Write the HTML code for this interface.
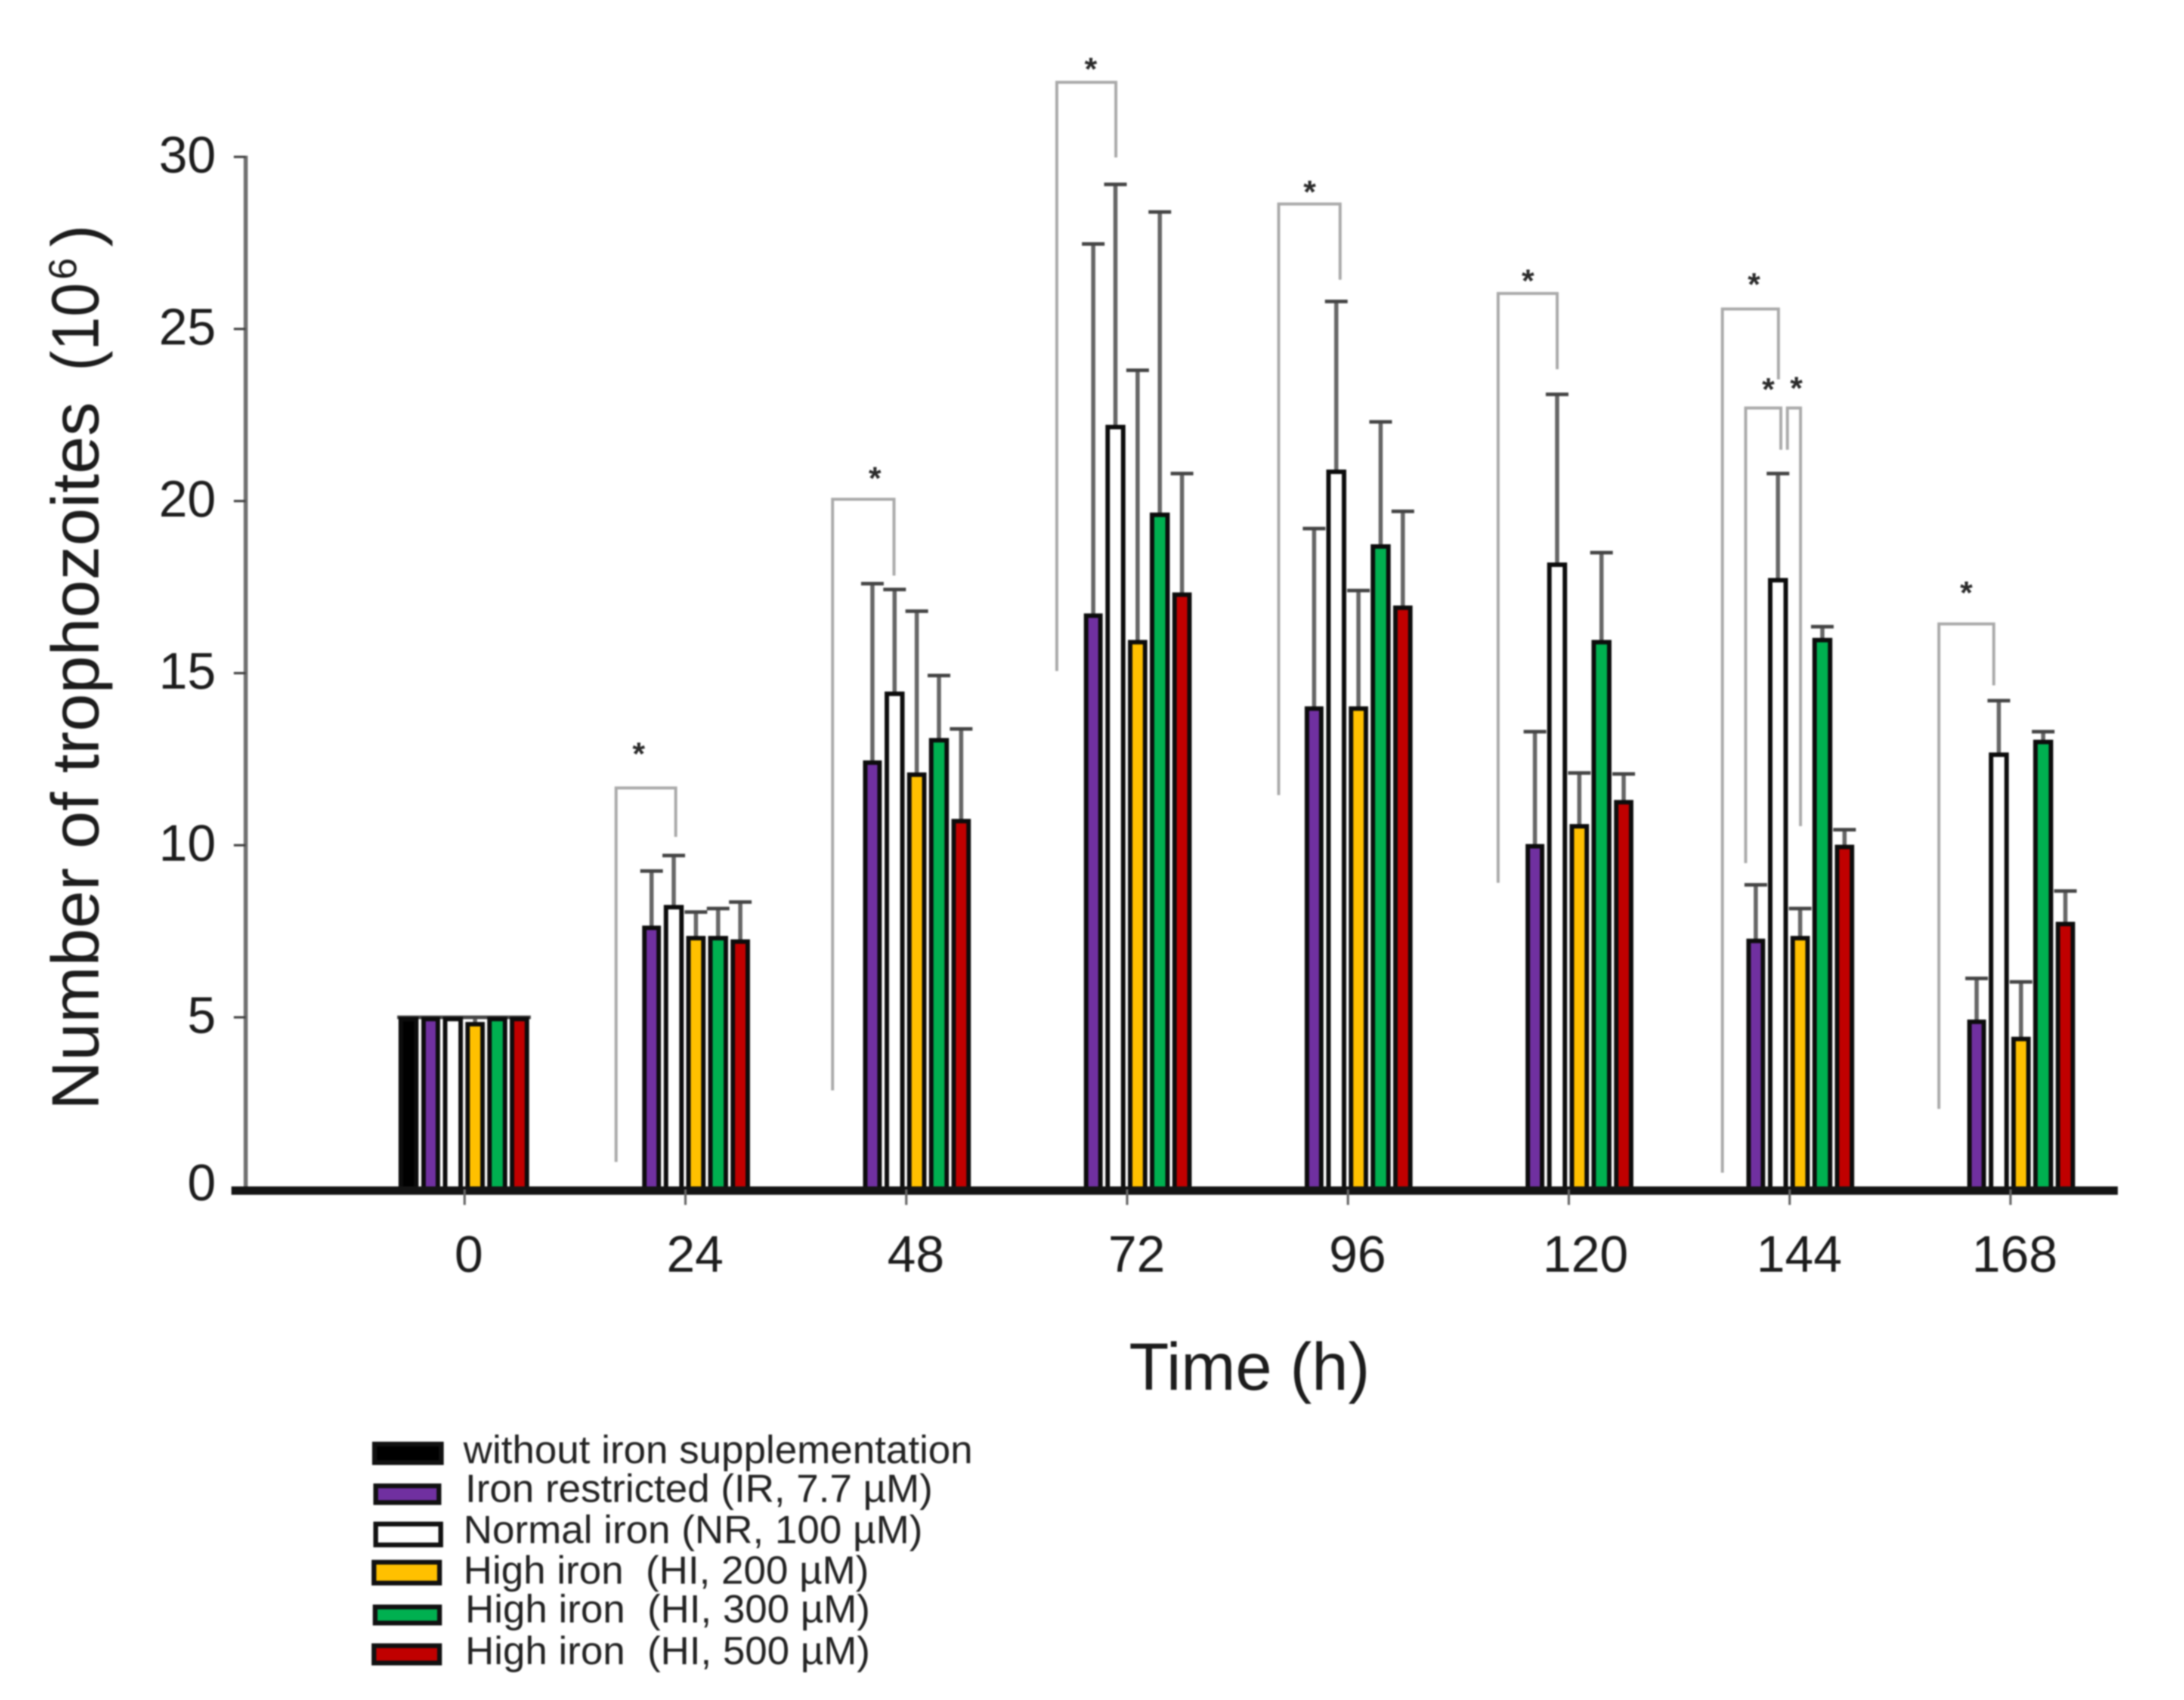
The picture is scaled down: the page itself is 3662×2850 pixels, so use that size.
<!DOCTYPE html>
<html lang="en">
<head>
<meta charset="utf-8">
<title>Number of trophozoites over time</title>
<style>
  html, body { margin: 0; padding: 0; background: #fff; }
  svg { display: block; filter: blur(1.4px); }
  text { font-family: "Liberation Sans", Arial, sans-serif; fill: #1c1c1c; }
  .bracket { fill: none; stroke: #aaaaaa; stroke-width: 5; }
  .star { font-size: 54px; font-weight: bold; fill: #2a2a2a; text-anchor: middle; }
  .legend-label { font-size: 66px; fill: #222; }
  .swatch { stroke: #111; stroke-width: 8; }
</style>
</head>
<body>
<svg id="chart" xmlns="http://www.w3.org/2000/svg" width="3662" height="2850" viewBox="0 0 3662 2850">
  <rect x="0" y="0" width="3662" height="2850" fill="#ffffff"/>

  <g id="bars"></g>
  <g id="axes"></g>

  <g>
    <text transform="translate(165 1861) rotate(-90)" font-size="112" textLength="1187" lengthAdjust="spacingAndGlyphs">Number of trophozoites</text>
    <text transform="translate(165 622) rotate(-90)" font-size="112" textLength="148" lengthAdjust="spacingAndGlyphs">(10</text>
    <text transform="translate(128 469) rotate(-90)" font-size="66">6</text>
    <text transform="translate(165 414) rotate(-90)" font-size="112">)</text>
  </g>
  <text x="1893" y="2330" font-size="112" textLength="404" lengthAdjust="spacingAndGlyphs">Time (h)</text>

  <g>
    <path class="bracket" d="M1033 1948V1321H1133V1403"/>
    <text class="star" x="1071" y="1282">*</text>
    <path class="bracket" d="M1396 1828V837H1499V965"/>
    <text class="star" x="1467" y="820">*</text>
    <path class="bracket" d="M1772 1125V138H1871V264"/>
    <text class="star" x="1829" y="134">*</text>
    <path class="bracket" d="M2144 1333V342H2247V469"/>
    <text class="star" x="2196" y="340">*</text>
    <path class="bracket" d="M2512 1480V492H2611V619"/>
    <text class="star" x="2562" y="489">*</text>
    <path class="bracket" d="M2888 1966V518H2982V636"/>
    <text class="star" x="2941" y="495">*</text>
    <path class="bracket" d="M2927 1447V684H2986V754"/>
    <text class="star" x="2965" y="671">*</text>
    <path class="bracket" d="M2997 754V684H3019V1385"/>
    <text class="star" x="3012" y="669">*</text>
    <path class="bracket" d="M3251 1859V1046H3343V1149"/>
    <text class="star" x="3297" y="1012">*</text>
  </g>

  <g>
    <rect class="swatch" x="628" y="2421" width="112" height="31" fill="#000000"/>
    <text class="legend-label" x="777" y="2453" textLength="854" lengthAdjust="spacingAndGlyphs">without iron supplementation</text>
    <rect class="swatch" x="630" y="2491" width="106" height="28" fill="#7030a0"/>
    <text class="legend-label" x="780" y="2518" textLength="784" lengthAdjust="spacingAndGlyphs">Iron restricted (IR, 7.7 µM)</text>
    <rect class="swatch" x="630" y="2555" width="109" height="35" fill="#ffffff"/>
    <text class="legend-label" x="777" y="2587" textLength="770" lengthAdjust="spacingAndGlyphs">Normal iron (NR, 100 µM)</text>
    <rect class="swatch" x="627" y="2619" width="110" height="35" fill="#ffc000"/>
    <text class="legend-label" x="777" y="2655" textLength="680" lengthAdjust="spacingAndGlyphs" xml:space="preserve">High iron  (HI, 200 µM)</text>
    <rect class="swatch" x="629" y="2694" width="108" height="27" fill="#00b050"/>
    <text class="legend-label" x="780" y="2720" textLength="679" lengthAdjust="spacingAndGlyphs" xml:space="preserve">High iron  (HI, 300 µM)</text>
    <rect class="swatch" x="627" y="2759" width="110" height="29" fill="#c00000"/>
    <text class="legend-label" x="780" y="2790" textLength="679" lengthAdjust="spacingAndGlyphs" xml:space="preserve">High iron  (HI, 500 µM)</text>
  </g>
</svg>

<script>
const timePoints = [0, 24, 48, 72, 96, 120, 144, 168];
const yTickLabels = [0, 5, 10, 15, 20, 25, 30];

const withoutIron = [4.95, null, null, null, null, null, null, null];
const ironRestricted = [4.95, 7.6, 12.4, 16.67, 13.97, 9.97, 7.22, 4.87];
const normalIron = [4.95, 8.2, 14.4, 22.15, 20.85, 18.15, 17.7, 12.63];
const highIron200 = [4.8, 7.3, 12.05, 15.9, 13.97, 10.55, 7.3, 4.37];
const highIron300 = [4.95, 7.3, 13.05, 19.6, 18.68, 15.9, 15.96, 13.0];
const highIron500 = [4.95, 7.2, 10.7, 17.28, 16.9, 11.25, 9.95, 7.71];

const withoutIronError = [0.05, null, null, null, null, null, null, null];
const ironRestrictedError = [0.05, 1.65, 5.2, 10.8, 5.23, 3.33, 1.63, 1.26];
const normalIronError = [0.05, 1.5, 3.03, 7.05, 4.95, 4.95, 3.1, 1.57];
const highIron200Error = [0.2, 0.76, 4.75, 7.9, 3.43, 1.55, 0.86, 1.66];
const highIron300Error = [0.05, 0.86, 1.88, 8.8, 3.62, 2.6, 0.39, 0.3];
const highIron500Error = [0.05, 1.15, 2.68, 3.52, 2.8, 0.82, 0.5, 0.96];

const SVG_NS = 'http://www.w3.org/2000/svg';
const barsLayer = document.getElementById('bars');
const axesLayer = document.getElementById('axes');

// Axis functions
function yScale(value) { return 1994 - value * 57.7; }
function xScale(hour) { return 779 + (hour / 24) * 370.3; }
function seriesOffset(slot) { return -94 + slot * 37.2; }

function makeEl(tag, parent) {
  const el = document.createElementNS(SVG_NS, tag);
  parent.appendChild(el);
  return el;
}

function xLabelNudge(hour) {
  if (hour === 0) return 7;
  if (hour === 120) return 28;
  if (hour === 168) return 7;
  return 16;
}

function drawSeries(key, values, errors, fill, slot, barWidth) {
  values.forEach(function (value, i) {
    if (value === null) return;
    const cx = xScale(timePoints[i]) + seriesOffset(slot);
    const top = yScale(value);
    const errTop = yScale(value + errors[i]);

    const stem = makeEl('line', barsLayer);
    
    
    stem.setAttribute('x1', cx);
    stem.setAttribute('x2', cx);
    stem.setAttribute('y1', top);
    stem.setAttribute('y2', errTop);
    stem.setAttribute('stroke', '#666666');
    stem.setAttribute('stroke-width', 7);

    const cap = makeEl('line', barsLayer);
    
    
    cap.setAttribute('x1', cx - 19);
    cap.setAttribute('x2', cx + 19);
    cap.setAttribute('y1', errTop);
    cap.setAttribute('y2', errTop);
    cap.setAttribute('stroke', '#444444');
    cap.setAttribute('stroke-width', 6);

    const bar = makeEl('rect', barsLayer);
    
    
    bar.setAttribute('x', cx - barWidth / 2);
    bar.setAttribute('y', top);
    bar.setAttribute('width', barWidth);
    bar.setAttribute('height', yScale(0) - top);
    bar.setAttribute('fill', fill);
    bar.setAttribute('stroke', '#0c0c0c');
    bar.setAttribute('stroke-width', 7.5);
  });
}

drawSeries('without-iron', withoutIron, withoutIronError, '#000000', 0, 26);
drawSeries('iron-restricted', ironRestricted, ironRestrictedError, '#7030a0', 1, 24);
drawSeries('normal-iron', normalIron, normalIronError, '#ffffff', 2, 26);
drawSeries('high-iron-200', highIron200, highIron200Error, '#ffc000', 3, 25);
drawSeries('high-iron-300', highIron300, highIron300Error, '#00b050', 4, 26);
drawSeries('high-iron-500', highIron500, highIron500Error, '#c00000', 5, 25);

// Y axis
const yAxisLine = makeEl('line', axesLayer);


yAxisLine.setAttribute('x1', 412);
yAxisLine.setAttribute('x2', 412);
yAxisLine.setAttribute('y1', yScale(30) - 2);
yAxisLine.setAttribute('y2', yScale(0));
yAxisLine.setAttribute('stroke', '#707070');
yAxisLine.setAttribute('stroke-width', 7);

yTickLabels.forEach(function (value) {
  const tick = makeEl('line', axesLayer);
  
  
  tick.setAttribute('x1', 392);
  tick.setAttribute('x2', 412);
  tick.setAttribute('y1', yScale(value));
  tick.setAttribute('y2', yScale(value));
  tick.setAttribute('stroke', '#444444');
  tick.setAttribute('stroke-width', 4);

  const label = makeEl('text', axesLayer);
  
  
  label.setAttribute('x', 362);
  label.setAttribute('y', yScale(value) + (value === 0 ? 18 : 26));
  label.setAttribute('font-size', 86);
  label.setAttribute('text-anchor', 'end');
  label.textContent = String(value);
});

// X axis
const xAxisLine = makeEl('line', axesLayer);


xAxisLine.setAttribute('x1', 388);
xAxisLine.setAttribute('x2', 3551);
xAxisLine.setAttribute('y1', yScale(0) + 2);
xAxisLine.setAttribute('y2', yScale(0) + 2);
xAxisLine.setAttribute('stroke', '#141414');
xAxisLine.setAttribute('stroke-width', 14);

timePoints.forEach(function (hour) {
  const tick = makeEl('line', axesLayer);
  
  
  tick.setAttribute('x1', xScale(hour));
  tick.setAttribute('x2', xScale(hour));
  tick.setAttribute('y1', yScale(0));
  tick.setAttribute('y2', yScale(0) + 26);
  tick.setAttribute('stroke', '#666666');
  tick.setAttribute('stroke-width', 4);

  const label = makeEl('text', axesLayer);
  
  
  label.setAttribute('x', xScale(hour) + xLabelNudge(hour));
  label.setAttribute('y', 2132);
  label.setAttribute('font-size', 86);
  label.setAttribute('text-anchor', 'middle');
  label.textContent = String(hour);
});
</script>
</body>
</html>
